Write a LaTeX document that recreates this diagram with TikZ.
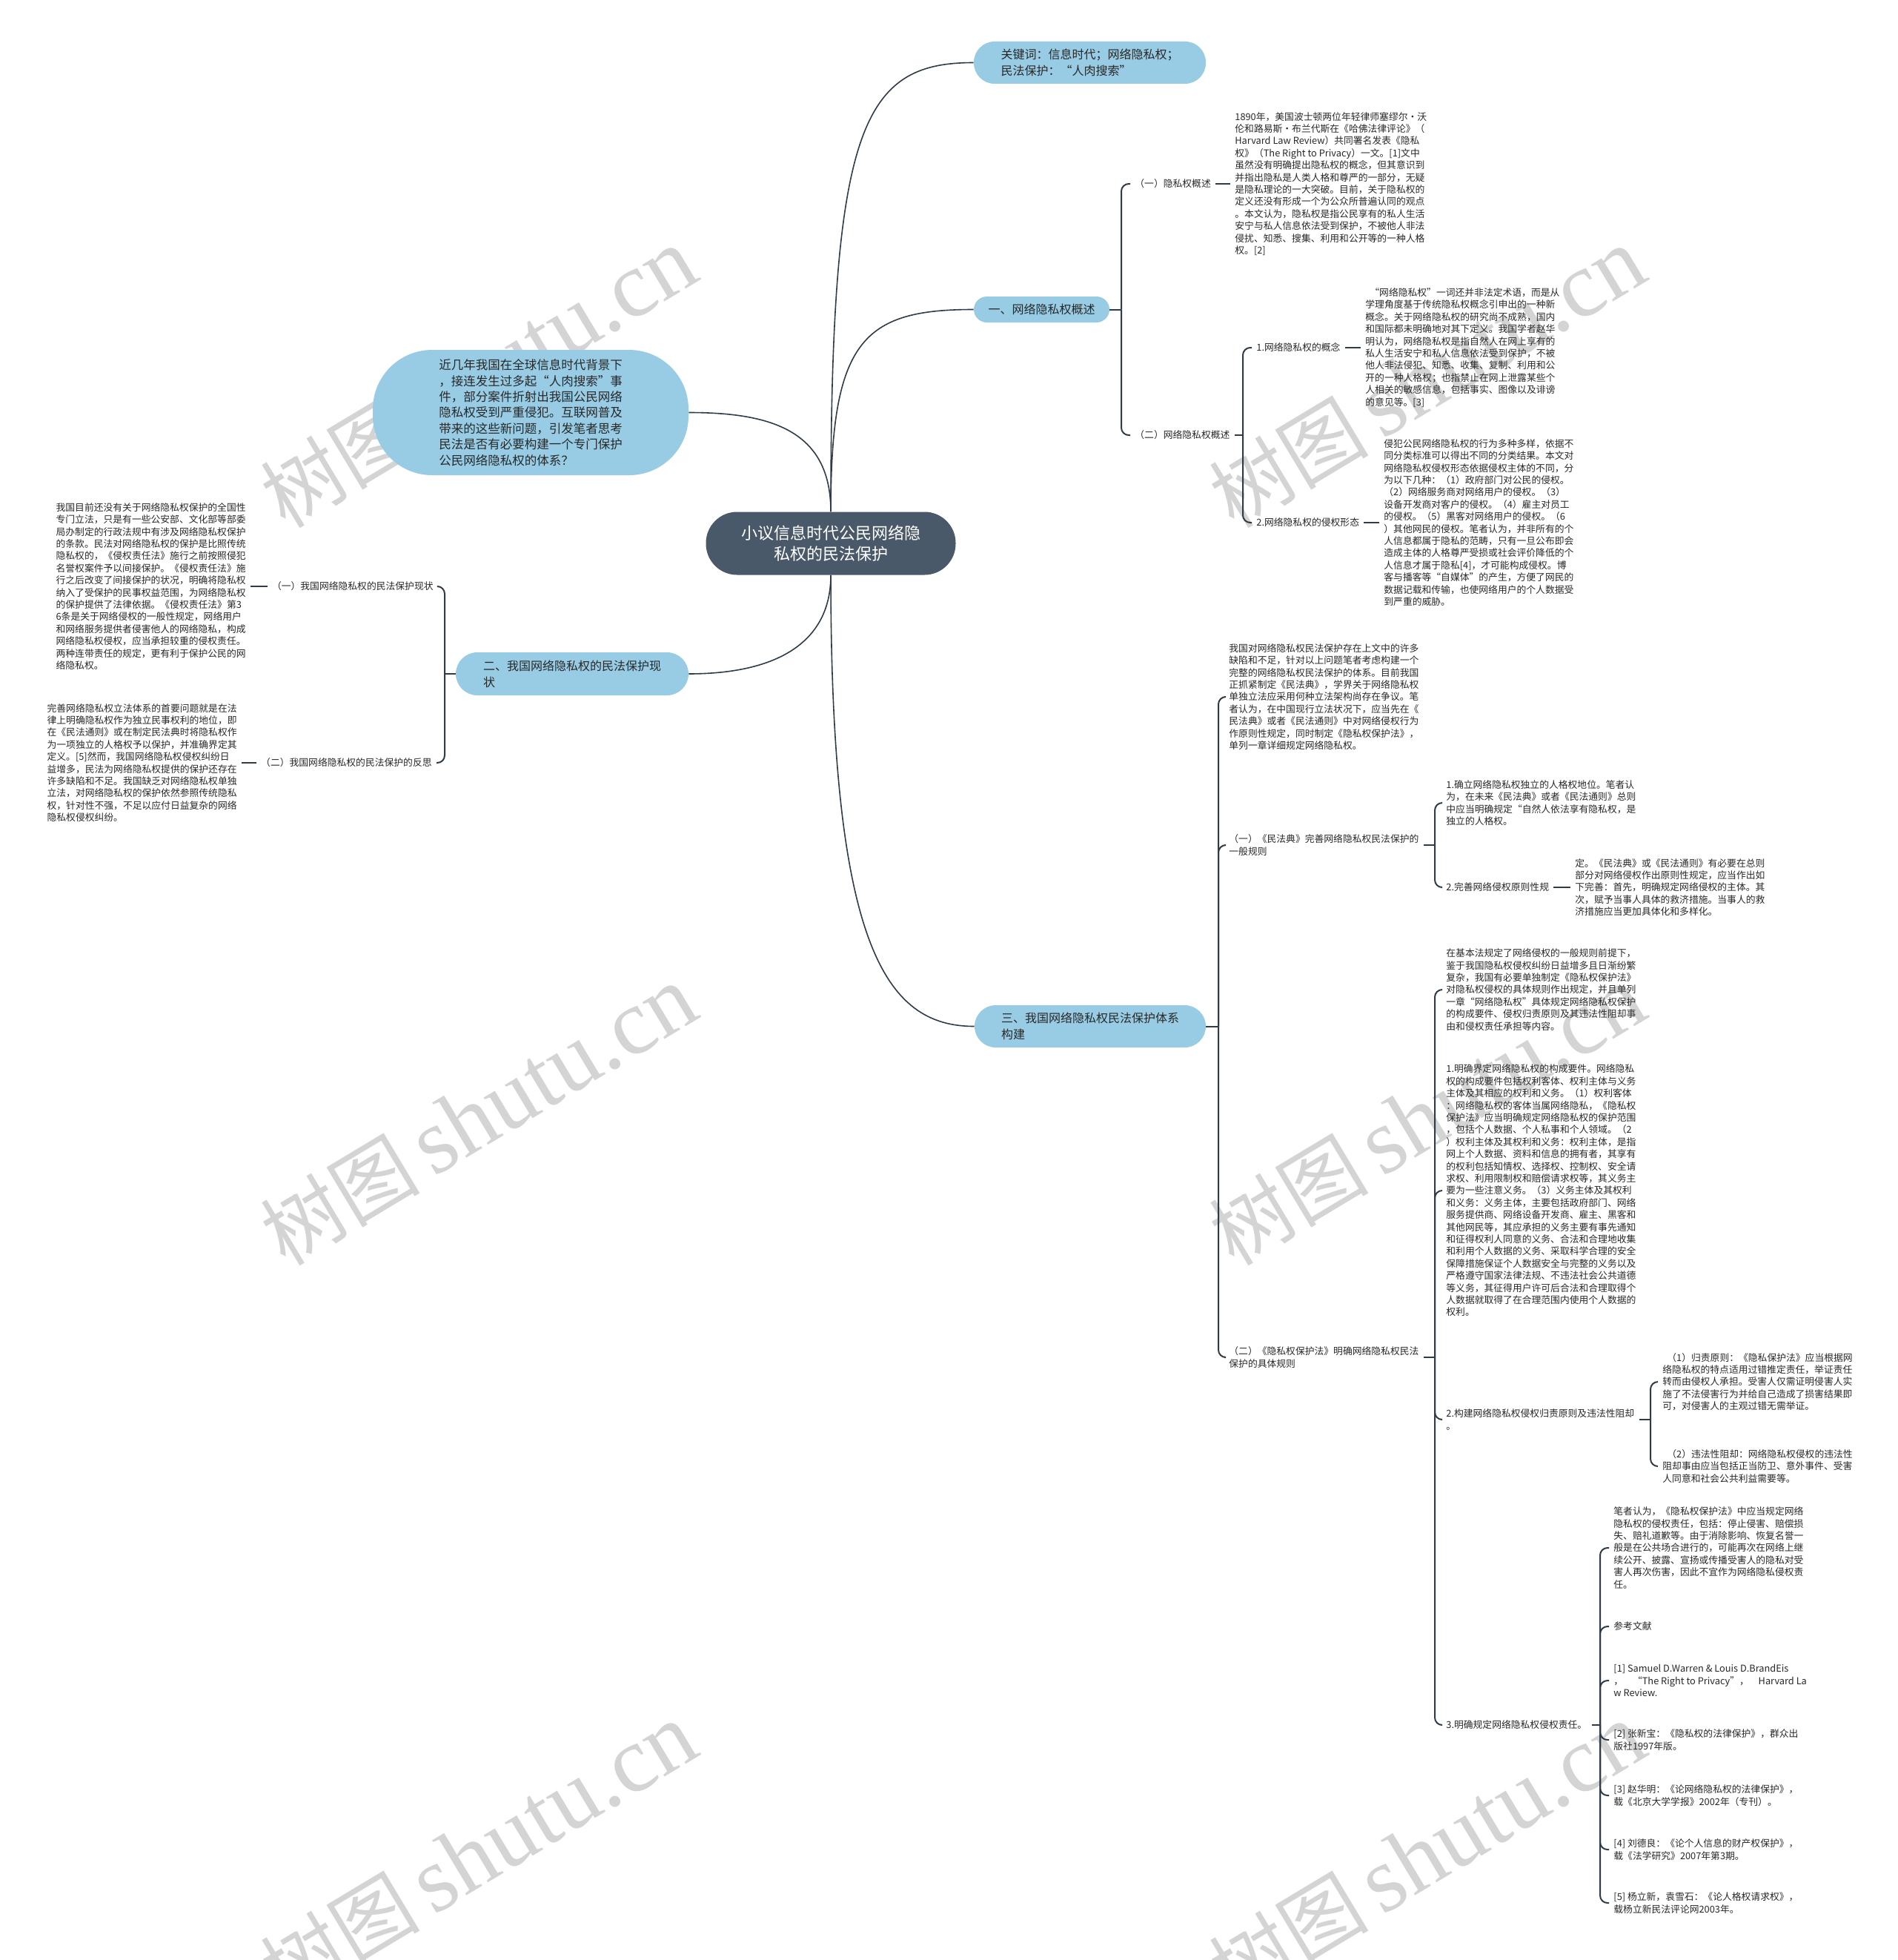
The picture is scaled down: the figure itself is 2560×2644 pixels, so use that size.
\documentclass[tikz,border=0pt]{standalone}
\usepackage{fontspec}
\setmainfont{Noto Sans CJK SC}
\newfontfamily\wmserif{Liberation Serif}
\definecolor{topic}{RGB}{152,204,228}
\definecolor{central}{RGB}{74,89,105}
\definecolor{linec}{RGB}{47,60,72}
\definecolor{txtc}{RGB}{40,40,40}
\begin{document}
\begin{tikzpicture}[x=0.5pt,y=-0.5pt,
  sm/.style={font=\fontsize{6.4pt}{8.2pt}\selectfont, text=txtc, align=left, inner sep=3pt},
  tw/.style={sm, anchor=west},
  te/.style={sm, anchor=east},
  topicnode/.style={fill=topic, font=\fontsize{8pt}{11pt}\selectfont, text=txtc, align=left, inner sep=0pt},
  br/.style={draw=linec, line width=1pt, rounded corners=5pt},
  curve/.style={draw=linec, line width=0.8pt},
  wmk/.style={text=black!17, rotate=31, inner sep=0pt}
]
\useasboundingbox (0,0) rectangle (2560,2644);
\fill[white] (0,0) rectangle (2560,2644);

% watermarks
\foreach \wx/\wy/\wn in {646/510/W1, 646/1505/W2, 646/2500/W3, 1926/510/W4, 1926/1505/W5, 1926/2500/W6}{
  \node[wmk] (\wn) at (\wx,\wy) {\fontsize{54pt}{54pt}\selectfont 树图\,{\wmserif\fontsize{63pt}{63pt}\selectfont shutu.cn}};
}

% central and topics
\node[fill=central, rounded corners=21pt, minimum width=168.5pt, minimum height=42.5pt, text=white, align=center, font=\fontsize{11pt}{14.3pt}\selectfont, inner sep=0pt] (C) at (1121,733) {小议信息时代公民网络隐\\私权的民法保护};

\node[topicnode, rounded corners=14pt, minimum width=156.5pt, minimum height=28.5pt] (K) at (1470.5,84.5) {关键词：信息时代；网络隐私权；\\民法保护：“人肉搜索”};
\node[topicnode, rounded corners=8.75pt, minimum width=91.5pt, minimum height=17.5pt, align=center] (S1) at (1405.5,417.5) {一、网络隐私权概述};
\node[topicnode, rounded corners=40pt, minimum width=213pt, minimum height=84.5pt, font=\fontsize{8.25pt}{10.7pt}\selectfont] (B) at (716,556.5) {近几年我国在全球信息时代背景下\\，接连发生过多起“人肉搜索”事\\件，部分案件折射出我国公民网络\\隐私权受到严重侵犯。互联网普及\\带来的这些新问题，引发笔者思考\\民法是否有必要构建一个专门保护\\公民网络隐私权的体系？};
\node[topicnode, rounded corners=14.5pt, minimum width=157pt, minimum height=29pt] (S2) at (772,909) {二、我国网络隐私权的民法保护现\\状\hspace{112pt}};
\node[topicnode, rounded corners=14.25pt, minimum width=156pt, minimum height=28.5pt] (S3) at (1471,1384.5) {三、我国网络隐私权民法保护体系\\构建};

% main curves
\draw[curve] (C.north) .. controls +(0,-520) and +(-150,0) .. (K.west);
\draw[curve] (C.north) .. controls +(0,-230) and +(-150,0) .. (S1.west);
\draw[curve] (B.east) .. controls +(110,0) and +(0,-110) .. (C.north);
\draw[curve] (C.south) .. controls +(0,90) and +(120,0) .. (S2.east);
\draw[curve] (C.south) .. controls +(0,500) and +(-120,0) .. (S3.west);

% ===== section 1 =====
\node[tw] (L1a) at (1525,248) {（一）隐私权概述};
\node[tw] (T1a) at (1660,248) {1890年，美国波士顿两位年轻律师塞缪尔·沃\\伦和路易斯·布兰代斯在《哈佛法律评论》（\\Harvard Law Review）共同署名发表《隐私\\权》（The Right to Privacy）一文。[1]文中\\虽然没有明确提出隐私权的概念，但其意识到\\并指出隐私是人类人格和尊严的一部分，无疑\\是隐私理论的一大突破。目前，关于隐私权的\\定义还没有形成一个为公众所普遍认同的观点\\。本文认为，隐私权是指公民享有的私人生活\\安宁与私人信息依法受到保护，不被他人非法\\侵扰、知悉、搜集、利用和公开等的一种人格\\权。[2]};
\node[tw] (L1b) at (1525,587) {（二）网络隐私权概述};
\node[tw] (L1b1) at (1689,469) {1.网络隐私权的概念};
\node[tw] (T1b1) at (1836,469) {\hspace{3pt}“网络隐私权”一词还并非法定术语，而是从\\学理角度基于传统隐私权概念引申出的一种新\\概念。关于网络隐私权的研究尚不成熟，国内\\和国际都未明确地对其下定义。我国学者赵华\\明认为，网络隐私权是指自然人在网上享有的\\私人生活安宁和私人信息依法受到保护，不被\\他人非法侵犯、知悉、收集、复制、利用和公\\开的一种人格权；也指禁止在网上泄露某些个\\人相关的敏感信息，包括事实、图像以及诽谤\\的意见等。[3]};
\node[tw] (L1b2) at (1689,705) {2.网络隐私权的侵权形态};
\node[tw] (T1b2) at (1861,705) {侵犯公民网络隐私权的行为多种多样，依据不\\同分类标准可以得出不同的分类结果。本文对\\网络隐私权侵权形态依据侵权主体的不同，分\\为以下几种：（1）政府部门对公民的侵权。\\（2）网络服务商对网络用户的侵权。（3）\\设备开发商对客户的侵权。（4）雇主对员工\\的侵权。（5）黑客对网络用户的侵权。（6\\）其他网民的侵权。笔者认为，并非所有的个\\人信息都属于隐私的范畴，只有一旦公布即会\\造成主体的人格尊严受损或社会评价降低的个\\人信息才属于隐私[4]，才可能构成侵权。博\\客与播客等“自媒体”的产生，方便了网民的\\数据记载和传输，也使网络用户的个人数据受\\到严重的威胁。};

\coordinate (J1) at (1513,417.5);
\coordinate (J1b) at (1677,587);
\draw[br] (S1.east) -- (J1);
\draw[br] (J1) |- (L1a.west);
\draw[br] (J1) |- (L1b.west);
\draw[br] (L1a.east) -- (T1a.west);
\draw[br] (L1b.east) -- (J1b);
\draw[br] (J1b) |- (L1b1.west);
\draw[br] (J1b) |- (L1b2.west);
\draw[br] (L1b1.east) -- (T1b1.west);
\draw[br] (L1b2.east) -- (T1b2.west);

% ===== section 2 =====
\node[te] (L2a) at (591,791) {（一）我国网络隐私权的民法保护现状};
\node[te] (T2a) at (338,791) {我国目前还没有关于网络隐私权保护的全国性\\专门立法，只是有一些公安部、文化部等部委\\局办制定的行政法规中有涉及网络隐私权保护\\的条款。民法对网络隐私权的保护是比照传统\\隐私权的，《侵权责任法》施行之前按照侵犯\\名誉权案件予以间接保护。《侵权责任法》施\\行之后改变了间接保护的状况，明确将隐私权\\纳入了受保护的民事权益范围，为网络隐私权\\的保护提供了法律依据。《侵权责任法》第3\\6条是关于网络侵权的一般性规定，网络用户\\和网络服务提供者侵害他人的网络隐私，构成\\网络隐私权侵权，应当承担较重的侵权责任。\\两种连带责任的规定，更有利于保护公民的网\\络隐私权。};
\node[te] (L2b) at (589,1029) {（二）我国网络隐私权的民法保护的反思};
\node[te] (T2b) at (326,1029) {完善网络隐私权立法体系的首要问题就是在法\\律上明确隐私权作为独立民事权利的地位，即\\在《民法通则》或在制定民法典时将隐私权作\\为一项独立的人格权予以保护，并准确界定其\\定义。[5]然而，我国网络隐私权侵权纠纷日\\益增多，民法为网络隐私权提供的保护还存在\\许多缺陷和不足。我国缺乏对网络隐私权单独\\立法，对网络隐私权的保护依然参照传统隐私\\权，针对性不强，不足以应付日益复杂的网络\\隐私权侵权纠纷。};

\coordinate (J2) at (600,909);
\draw[br] (S2.west) -- (J2);
\draw[br] (J2) |- (L2a.east);
\draw[br] (J2) |- (L2b.east);
\draw[br] (L2a.west) -- (T2a.east);
\draw[br] (L2b.west) -- (T2b.east);

% ===== section 3 =====
\node[tw] (T3a) at (1652,940) {我国对网络隐私权民法保护存在上文中的许多\\缺陷和不足，针对以上问题笔者考虑构建一个\\完整的网络隐私权民法保护的体系。目前我国\\正抓紧制定《民法典》，学界关于网络隐私权\\单独立法应采用何种立法架构尚存在争议。笔\\者认为，在中国现行立法状况下，应当先在《\\民法典》或者《民法通则》中对网络侵权行为\\作原则性规定，同时制定《隐私权保护法》，\\单列一章详细规定网络隐私权。};
\node[tw] (L3a) at (1652,1140) {（一）《民法典》完善网络隐私权民法保护的\\一般规则};
\node[tw] (T3a1) at (1945,1083) {1.确立网络隐私权独立的人格权地位。笔者认\\为，在未来《民法典》或者《民法通则》总则\\中应当明确规定“自然人依法享有隐私权，是\\独立的人格权。};
\node[tw] (L3a2) at (1945,1197) {2.完善网络侵权原则性规};
\node[tw] (T3a2) at (2119,1197) {定。《民法典》或《民法通则》有必要在总则\\部分对网络侵权作出原则性规定，应当作出如\\下完善：首先，明确规定网络侵权的主体。其\\次，赋予当事人具体的救济措施。当事人的救\\济措施应当更加具体化和多样化。};
\node[tw] (L3b) at (1652,1831) {（二）《隐私权保护法》明确网络隐私权民法\\保护的具体规则};
\node[tw] (T3b1) at (1945,1335) {在基本法规定了网络侵权的一般规则前提下，\\鉴于我国隐私权侵权纠纷日益增多且日渐纷繁\\复杂，我国有必要单独制定《隐私权保护法》\\对隐私权侵权的具体规则作出规定，并且单列\\一章“网络隐私权”具体规定网络隐私权保护\\的构成要件、侵权归责原则及其违法性阻却事\\由和侵权责任承担等内容。};
\node[tw] (T3b2) at (1945,1606) {1.明确界定网络隐私权的构成要件。网络隐私\\权的构成要件包括权利客体、权利主体与义务\\主体及其相应的权利和义务。（1）权利客体\\：网络隐私权的客体当属网络隐私，《隐私权\\保护法》应当明确规定网络隐私权的保护范围\\，包括个人数据、个人私事和个人领域。（2\\）权利主体及其权利和义务：权利主体，是指\\网上个人数据、资料和信息的拥有者，其享有\\的权利包括知情权、选择权、控制权、安全请\\求权、利用限制权和赔偿请求权等，其义务主\\要为一些注意义务。（3）义务主体及其权利\\和义务：义务主体，主要包括政府部门、网络\\服务提供商、网络设备开发商、雇主、黑客和\\其他网民等，其应承担的义务主要有事先通知\\和征得权利人同意的义务、合法和合理地收集\\和利用个人数据的义务、采取科学合理的安全\\保障措施保证个人数据安全与完整的义务以及\\严格遵守国家法律法规、不违法社会公共道德\\等义务，其征得用户许可后合法和合理取得个\\人数据就取得了在合理范围内使用个人数据的\\权利。};
\node[tw] (L3b3) at (1945,1915) {2.构建网络隐私权侵权归责原则及违法性阻却\\。};
\node[tw] (T3b3a) at (2237,1864) {\hspace{3pt}（1）归责原则：《隐私保护法》应当根据网\\络隐私权的特点适用过错推定责任，举证责任\\转而由侵权人承担。受害人仅需证明侵害人实\\施了不法侵害行为并给自己造成了损害结果即\\可，对侵害人的主观过错无需举证。};
\node[tw] (T3b3b) at (2237,1978) {\hspace{3pt}（2）违法性阻却：网络隐私权侵权的违法性\\阻却事由应当包括正当防卫、意外事件、受害\\人同意和社会公共利益需要等。};
\node[tw] (L3b4) at (1945,2327) {3.明确规定网络隐私权侵权责任。};
\node[tw] (T4a) at (2171,2088) {笔者认为，《隐私权保护法》中应当规定网络\\隐私权的侵权责任，包括：停止侵害、赔偿损\\失、赔礼道歉等。由于消除影响、恢复名誉一\\般是在公共场合进行的，可能再次在网络上继\\续公开、披露、宣扬或传播受害人的隐私对受\\害人再次伤害，因此不宜作为网络隐私侵权责\\任。};
\node[tw] (T4b) at (2171,2194) {参考文献};
\node[tw] (T4c) at (2171,2267) {[1] Samuel D.Warren \& Louis D.BrandEis\\，\quad “The Right to Privacy”，\quad Harvard La\\w Review.};
\node[tw] (T4d) at (2171,2347) {[2] 张新宝：《隐私权的法律保护》，群众出\\版社1997年版。};
\node[tw] (T4e) at (2171,2422) {[3] 赵华明：《论网络隐私权的法律保护》，\\载《北京大学学报》2002年（专刊）。};
\node[tw] (T4f) at (2171,2495) {[4] 刘德良：《论个人信息的财产权保护》，\\载《法学研究》2007年第3期。};
\node[tw] (T4g) at (2171,2567) {[5] 杨立新，袁雪石：《论人格权请求权》，\\载杨立新民法评论网2003年。};

\coordinate (J3) at (1644,1384.5);
\coordinate (J3a) at (1936,1140);
\coordinate (J3b) at (1936,1831);
\coordinate (J3b3) at (2227,1915);
\coordinate (J3b4) at (2159,2327);
\draw[br] (S3.east) -- (J3);
\draw[br] (J3) |- (T3a.west);
\draw[br] (J3) |- (L3a.west);
\draw[br] (J3) |- (L3b.west);
\draw[br] (L3a.east) -- (J3a);
\draw[br] (J3a) |- (T3a1.west);
\draw[br] (J3a) |- (L3a2.west);
\draw[br] (L3a2.east) -- (T3a2.west);
\draw[br] (L3b.east) -- (J3b);
\draw[br] (J3b) |- (T3b1.west);
\draw[br] (J3b) |- (T3b2.west);
\draw[br] (J3b) |- (L3b3.west);
\draw[br] (J3b) |- (L3b4.west);
\draw[br] (L3b3.east) -- (J3b3);
\draw[br] (J3b3) |- (T3b3a.west);
\draw[br] (J3b3) |- (T3b3b.west);
\draw[br] (L3b4.east) -- (J3b4);
\foreach \t in {T4a,T4b,T4c,T4d,T4e,T4f,T4g}{
  \draw[br] (J3b4) |- (\t.west);
}
\end{tikzpicture}
\end{document}
